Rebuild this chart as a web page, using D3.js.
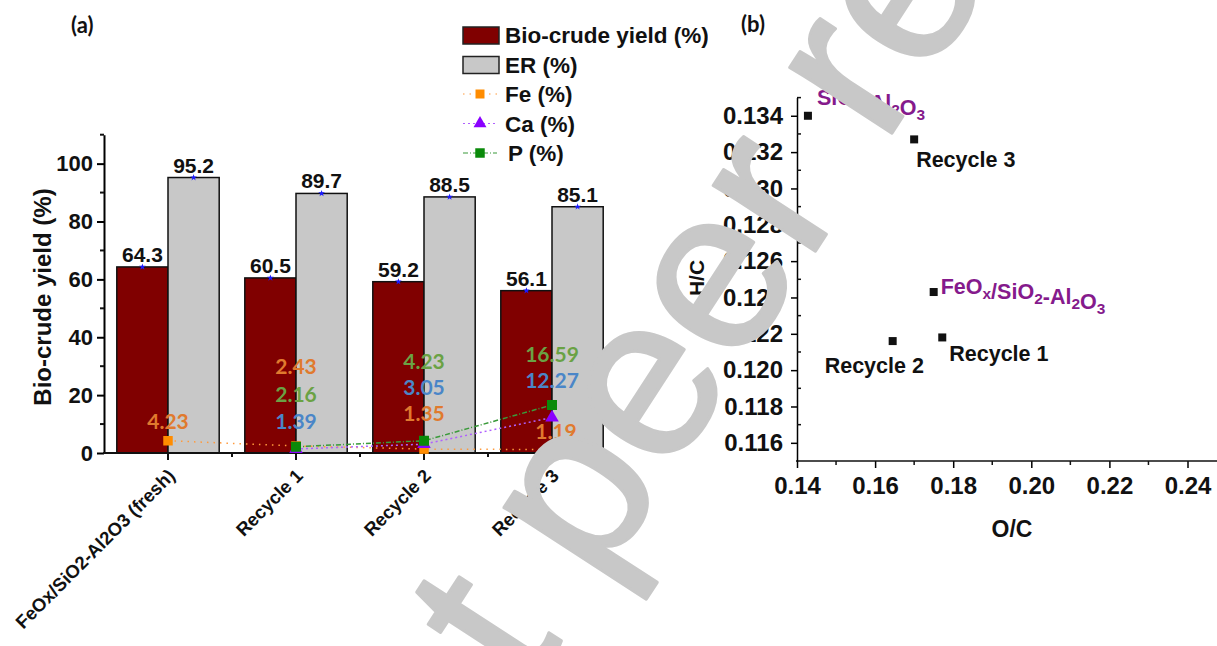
<!DOCTYPE html>
<html>
<head>
<meta charset="utf-8">
<script src="https://cdn.jsdelivr.net/npm/d3@7"></script>
<style>
  body { margin: 0; background: #fff; }
  svg { display: block; }
</style>
</head>
<body>
<svg id="chart" width="1217" height="646"></svg>
<script>
// Panel (a) data: catalyst recycling runs
const categories = ["FeOx/SiO2-Al2O3 (fresh)", "Recycle 1", "Recycle 2", "Recycle 3"];
const bioCrudeYield = [64.3, 60.5, 59.2, 56.1];
const erValues = [95.2, 89.7, 88.5, 85.1];
const feValues = [4.23, 2.43, 1.35, 1.19];
const caValues = [null, 1.39, 3.05, 12.27];
const pValues = [null, 2.16, 4.23, 16.59];
const yTicksA = [0, 20, 40, 60, 80, 100];

// Where the coloured element labels sit (in y-axis units) above each run
const feLabelAt = [10.8, 30.0, 13.8, 7.4];
const caLabelAt = [null, 10.8, 22.8, 25.2];
const pLabelAt = [null, 20.4, 31.5, 34.2];

// Panel (b) data: van Krevelen points
const sampleNames = ["SiO_2-Al_2O_3", "Recycle 3", "FeO_x/SiO_2-Al_2O_3", "Recycle 1", "Recycle 2"];
const ocValues = [0.1428, 0.1700, 0.1750, 0.1772, 0.1645];
const hcValues = [0.1340, 0.1327, 0.1243, 0.1218, 0.1216];
const xTicksB = [0.14, 0.16, 0.18, 0.20, 0.22, 0.24];
const yTicksB = [0.116, 0.118, 0.120, 0.122, 0.124, 0.126, 0.128, 0.130, 0.132, 0.134];

const svg = d3.select('#chart');
const sans = "'Liberation Sans', Arial, sans-serif";
const numFont = "Lato, 'Open Sans', sans-serif";

// writes "SiO_2" style strings as text with subscripts
function richText(sel, str, size) {
  str.split(/(_.)/).filter(s => s.length).forEach(part => {
    if (part[0] === '_') {
      sel.append('tspan').attr('font-size', size * 0.72).attr('dy', 5).text(part[1]);
      sel.append('tspan').attr('font-size', size).attr('dy', -5).text('');
    } else {
      sel.append('tspan').text(part);
    }
  });
}

function drawPanelA() {
  const g = svg.append('g');
  const y = d3.scaleLinear().domain([0, 110]).range([453, 134.7]);
  const x = d3.scaleBand().domain(categories).range([104, 616]).paddingInner(0.2).paddingOuter(0.1);
  const bw = x.bandwidth() / 2;
  const cx = c => x(c) + x.bandwidth() / 2;

  // bars
  g.selectAll('.bio').data(categories).join('rect')
    .attr('x', c => x(c)).attr('width', bw)
    .attr('y', (c, i) => y(bioCrudeYield[i])).attr('height', (c, i) => y(0) - y(bioCrudeYield[i]))
    .attr('fill', '#800000').attr('stroke', '#111').attr('stroke-width', 1.5);
  g.selectAll('.er').data(categories).join('rect')
    .attr('x', c => x(c) + bw).attr('width', bw)
    .attr('y', (c, i) => y(erValues[i])).attr('height', (c, i) => y(0) - y(erValues[i]))
    .attr('fill', '#c8c8c8').attr('stroke', '#111').attr('stroke-width', 1.5);

  // small blue stars on the bar tops + value labels
  const tops = [];
  categories.forEach((c, i) => {
    tops.push({ x: x(c) + bw / 2, v: bioCrudeYield[i] });
    tops.push({ x: x(c) + bw * 1.5, v: erValues[i] });
  });
  g.selectAll('.star').data(tops).join('path')
    .attr('d', d3.symbol(d3.symbolStar, 14))
    .attr('transform', d => `translate(${d.x},${y(d.v)})`)
    .attr('fill', '#1a1aff');
  g.selectAll('.val').data(tops).join('text')
    .attr('x', d => d.x).attr('y', d => y(d.v) - 5)
    .attr('text-anchor', 'middle').attr('font-family', sans).attr('font-weight', 'bold')
    .attr('font-size', 21).attr('fill', '#111').text(d => d.v.toFixed(1));

  // axes
  const yAxis = g.append('g').attr('transform', 'translate(104,0)')
    .call(d3.axisLeft(y).tickValues(yTicksA).tickSize(7).tickSizeOuter(0).tickPadding(4));
  yAxis.select('.domain').attr('stroke-width', 2);
  yAxis.selectAll('line').attr('stroke-width', 2);
  yAxis.selectAll('text').attr('font-family', sans).attr('font-weight', 'bold').attr('font-size', 22).attr('fill', '#111');
  g.append('g').selectAll('line').data([10, 30, 50, 70, 90, 110]).join('line')
    .attr('x1', 100).attr('x2', 104).attr('y1', d => y(d)).attr('y2', d => y(d))
    .attr('stroke', '#111').attr('stroke-width', 2);

  g.append('line').attr('x1', 103).attr('x2', 602).attr('y1', y(0)).attr('y2', y(0))
    .attr('stroke', '#111').attr('stroke-width', 2);
  g.append('g').selectAll('line').data(categories).join('line')
    .attr('x1', cx).attr('x2', cx).attr('y1', y(0)).attr('y2', y(0) + 7)
    .attr('stroke', '#111').attr('stroke-width', 2);
  const minorX = categories.slice(1).map(c => x(c) - x.step() * 0.1).concat([602]);
  g.append('g').selectAll('line').data(minorX).join('line')
    .attr('x1', d => d).attr('x2', d => d).attr('y1', y(0)).attr('y2', y(0) + 4)
    .attr('stroke', '#111').attr('stroke-width', 2);

  g.selectAll('.cat').data(categories).join('text')
    .attr('transform', c => `translate(${cx(c) + 8},477) rotate(-45)`)
    .attr('text-anchor', 'end').attr('font-family', sans).attr('font-weight', 'bold')
    .attr('font-size', 18.5).attr('fill', '#111').text(c => c);

  g.append('text').attr('transform', 'translate(51,297) rotate(-90)')
    .attr('text-anchor', 'middle').attr('font-family', sans).attr('font-weight', 'bold')
    .attr('font-size', 24).attr('fill', '#111').text('Bio-crude yield (%)');

  g.append('text').attr('x', 71).attr('y', 33).attr('font-family', numFont).attr('font-weight', 'bold')
    .attr('font-size', 22).attr('fill', '#111').text('(a)');

  // element series (Fe, Ca, P)
  const series = [
    { name: 'Fe (%)', values: feValues, line: '#ff9a3c', dash: '1.5,5', mark: 'square', fill: '#ff8c00', size: 90, text: '#e07a2e', labelAt: feLabelAt },
    { name: 'Ca (%)', values: caValues, line: '#b060ff', dash: '2,3', mark: 'triangle', fill: '#8a00ff', size: 80, text: '#4a86c8', labelAt: caLabelAt },
    { name: 'P (%)', values: pValues, line: '#3a9a3a', dash: '5,2,1,2', mark: 'square', fill: '#0a8a0a', size: 100, text: '#6aa244', labelAt: pLabelAt }
  ];
  const line = d3.line().defined(d => d.v != null).x(d => d.x).y(d => y(d.v));
  series.forEach(s => {
    const pts = categories.map((c, i) => ({ x: cx(c), v: s.values[i] }));
    g.append('path').datum(pts).attr('d', line).attr('fill', 'none')
      .attr('stroke', s.line).attr('stroke-width', 1.5).attr('stroke-dasharray', s.dash);
    g.selectAll(null).data(pts.filter(d => d.v != null)).join('path')
      .attr('d', d3.symbol(s.mark === 'square' ? d3.symbolSquare : d3.symbolTriangle, s.size))
      .attr('transform', d => `translate(${d.x},${y(d.v)})`).attr('fill', s.fill);
  });
  series.forEach(s => {
    categories.forEach((c, i) => {
      if (s.values[i] == null) return;
      g.append('text').attr('x', cx(c) + (i === 3 && s.name === 'Fe (%)' ? 4 : 0))
        .attr('y', y(s.labelAt[i])).attr('dy', '0.36em')
        .attr('text-anchor', 'middle').attr('font-family', numFont).attr('font-weight', 'bold')
        .attr('font-size', 21).attr('fill', s.text).text(s.values[i].toFixed(2));
    });
  });

  // legend
  const clip = svg.append('clipPath').attr('id', 'legClip');
  clip.append('rect').attr('x', 440).attr('y', 0).attr('width', 268).attr('height', 200);
  const leg = g.append('g').attr('clip-path', 'url(#legClip)');
  const rows = [
    { label: 'Bio-crude yield (%)', kind: 'bar', fill: '#800000' },
    { label: 'ER (%)', kind: 'bar', fill: '#c8c8c8' }
  ].concat(series.map(s => ({ label: s.name, kind: 'line', s: s })));
  rows.forEach((r, i) => {
    const ry = 35 + i * 29.5;
    const item = leg.append('g').attr('transform', `translate(0,${ry})`);
    if (r.kind === 'bar') {
      item.append('rect').attr('x', 463).attr('y', -8).attr('width', 36).attr('height', 17)
        .attr('fill', r.fill).attr('stroke', '#222').attr('stroke-width', 1.5);
    } else {
      item.append('line').attr('x1', 463).attr('x2', 497).attr('y1', 0).attr('y2', 0)
        .attr('stroke', r.s.line).attr('stroke-width', 1.2).attr('stroke-dasharray', r.s.dash);
      item.append('path')
        .attr('d', d3.symbol(r.s.mark === 'square' ? d3.symbolSquare : d3.symbolTriangle, r.s.size * 0.9))
        .attr('transform', 'translate(480,0)').attr('fill', r.s.fill);
    }
    item.append('text').attr('x', i === 4 ? 508 : 505).attr('y', 0).attr('dy', '0.36em')
      .attr('font-family', sans).attr('font-weight', 'bold').attr('font-size', 22.5)
      .attr('fill', '#111').text(r.label);
  });
}

function drawPanelB() {
  const g = svg.append('g');
  const x = d3.scaleLinear().domain([0.14, 0.24]).range([797, 1187.5]);
  const y = d3.scaleLinear().domain([0.115, 0.135]).range([461, 97.6]);

  const xAxis = g.append('g').attr('transform', 'translate(0,461)')
    .call(d3.axisBottom(x).tickValues(xTicksB).tickFormat(d3.format('.2f')).tickSize(7).tickSizeOuter(0).tickPadding(9));
  xAxis.select('.domain').remove();
  xAxis.selectAll('line').attr('stroke-width', 1.5);
  xAxis.selectAll('text').attr('font-family', sans).attr('font-weight', 'bold').attr('font-size', 24).attr('fill', '#111');
  g.append('line').attr('x1', 796).attr('x2', 1217).attr('y1', 461).attr('y2', 461).attr('stroke', '#111').attr('stroke-width', 1.5);
  g.append('g').selectAll('line').data([0.15, 0.17, 0.19, 0.21, 0.23]).join('line')
    .attr('x1', d => x(d)).attr('x2', d => x(d)).attr('y1', 461).attr('y2', 465)
    .attr('stroke', '#111').attr('stroke-width', 1.5);

  const yAxis = g.append('g').attr('transform', 'translate(797,0)')
    .call(d3.axisLeft(y).tickValues(yTicksB).tickFormat(d3.format('.3f')).tickSize(6).tickSizeOuter(0).tickPadding(8));
  yAxis.select('.domain').attr('stroke-width', 1.5);
  yAxis.selectAll('line').attr('stroke-width', 1.5);
  yAxis.selectAll('text').attr('font-family', sans).attr('font-weight', 'bold').attr('font-size', 24).attr('fill', '#111');
  g.append('g').selectAll('line').data(d3.range(0.117, 0.1355, 0.002)).join('line')
    .attr('x1', 797).attr('x2', 801).attr('y1', d => y(d)).attr('y2', d => y(d))
    .attr('stroke', '#111').attr('stroke-width', 1.5);

  g.append('text').attr('x', 1012).attr('y', 537).attr('text-anchor', 'middle')
    .attr('font-family', sans).attr('font-weight', 'bold').attr('font-size', 23).attr('fill', '#111').text('O/C');
  g.append('text').attr('transform', 'translate(704,278) rotate(-90)').attr('text-anchor', 'middle')
    .attr('font-family', sans).attr('font-weight', 'bold').attr('font-size', 21).attr('fill', '#111').text('H/C');
  g.append('text').attr('x', 741).attr('y', 32).attr('font-family', numFont).attr('font-weight', 'bold')
    .attr('font-size', 22).attr('fill', '#111').text('(b)');

  const pts = sampleNames.map((n, i) => ({ name: n, oc: ocValues[i], hc: hcValues[i] }));
  g.selectAll('.pt').data(pts).join('rect')
    .attr('x', d => x(d.oc) - 4).attr('y', d => y(d.hc) - 4).attr('width', 8).attr('height', 8).attr('fill', '#111');

  // label offsets from each point
  const offsets = [[9, -11], [2, 28], [7, 2], [7, 24], [-68, 32]];
  pts.forEach((d, i) => {
    const t = g.append('text').attr('x', x(d.oc) + offsets[i][0]).attr('y', y(d.hc) + offsets[i][1])
      .attr('font-family', sans).attr('font-weight', 'bold').attr('font-size', 21.5)
      .attr('fill', d.name.includes('_') ? '#851a8c' : '#111');
    richText(t, d.name, 21.5);
  });
}

drawPanelA();
drawPanelB();

// "Not peer reviewed" watermark laid over both panels
svg.append('text').attr('transform', 'translate(368,940) rotate(-57)')
  .attr('font-family', sans).attr('font-size', 230)
  .attr('fill', '#c8c8c8').attr('stroke', '#c8c8c8').attr('stroke-width', 3).attr('stroke-linejoin', 'round')
  .text('Not peer reviewed');
</script>
</body>
</html>
